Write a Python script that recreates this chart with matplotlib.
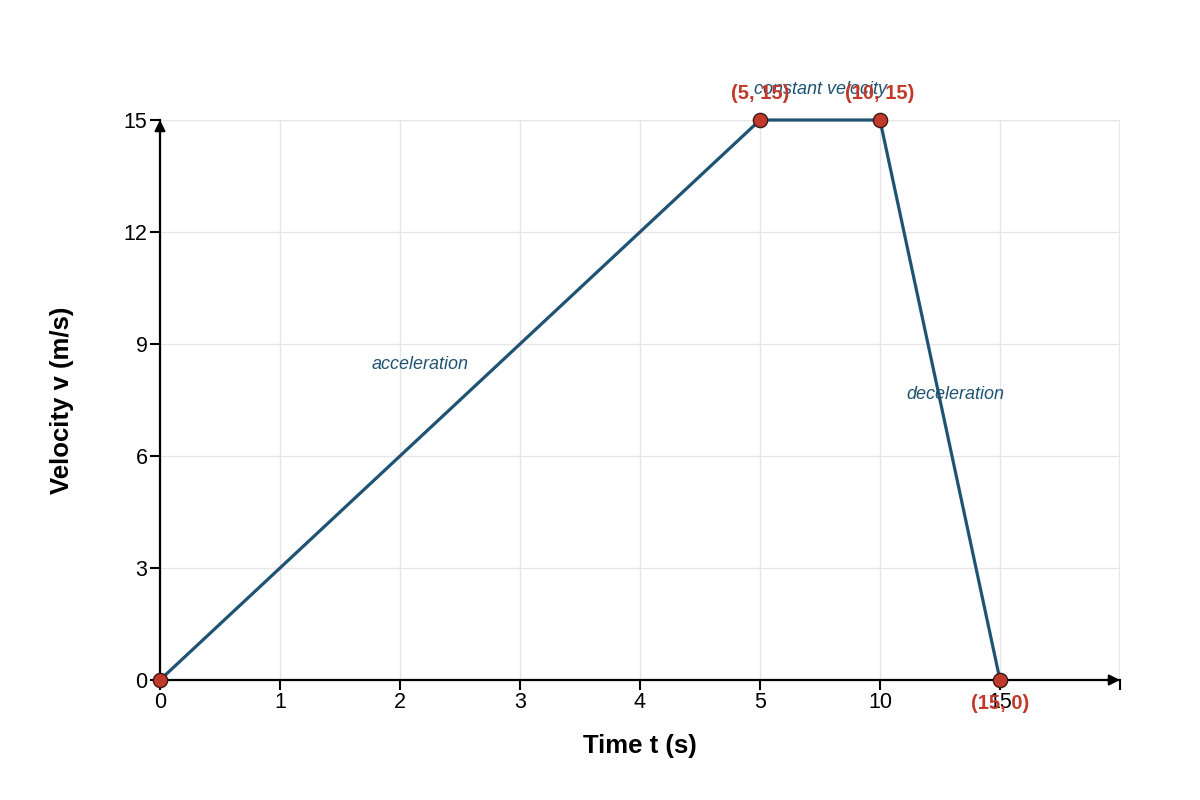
import matplotlib.pyplot as plt

# x axis is an ordinal (point) scale: equal spacing per tick
x_ticks = [0, 1, 2, 3, 4, 5, 10, 15]
y_ticks = [0, 3, 6, 9, 12, 15]

times = [0, 5, 10, 15]
velocities = [0, 15, 15, 0]
point_labels = ['', '(5, 15)', '(10, 15)', '(15, 0)']

phase_names = ['acceleration', 'constant velocity', 'deceleration']
phase_x = [2.17, 5.5, 6.625]
phase_y = [8.45, 15.82, 7.65]

LINE = '#1f5373'
RED = '#c0392b'


def main():
    plt.rcParams['font.family'] = ['Liberation Sans', 'DejaVu Sans']

    fig = plt.figure(figsize=(12, 8), dpi=100)
    ax = fig.add_axes([160 / 1200, 120 / 800, 960 / 1200, 560 / 800])

    n = len(x_ticks)
    pos = [x_ticks.index(t) for t in times]

    ax.set_xlim(0, n)
    ax.set_ylim(0, 15)
    ax.set_xticks(list(range(n + 1)))
    ax.set_xticklabels([str(t) for t in x_ticks] + [''])
    ax.set_yticks(y_ticks)
    ax.set_yticklabels([str(v) for v in y_ticks])
    ax.grid(True, color='#e6e6e6', lw=1)
    ax.set_axisbelow(True)
    ax.axvline(n, color='#e6e6e6', lw=1.5, zorder=0)
    ax.axhline(15, color='#e6e6e6', lw=1.5, zorder=0)

    for s in ['top', 'right']:
        ax.spines[s].set_visible(False)
    for s in ['left', 'bottom']:
        ax.spines[s].set_color('black')
        ax.spines[s].set_linewidth(1.6)
    ax.tick_params(axis='both', colors='black', width=1.5, length=7,
                   labelsize=15.5, pad=2)
    for lab in ax.get_yticklabels():
        lab.set_verticalalignment('center_baseline')

    # arrow heads on axes
    ax.annotate('', xy=(n, 0), xytext=(n - 0.12, 0),
                arrowprops=dict(arrowstyle='-|>', color='black',
                                mutation_scale=16, lw=1.5, shrinkA=0, shrinkB=0),
                annotation_clip=False)
    ax.annotate('', xy=(0, 15), xytext=(0, 14.68),
                arrowprops=dict(arrowstyle='-|>', color='black',
                                mutation_scale=16, lw=1.5, shrinkA=0, shrinkB=0),
                annotation_clip=False)

    ax.plot(pos, velocities, color=LINE, lw=2.3, zorder=3, clip_on=False)
    ax.scatter(pos, velocities, s=105, color=RED, edgecolors='#3a1a16',
               linewidths=1, zorder=5, clip_on=False)

    for x, y, lab in zip(pos, velocities, point_labels):
        if not lab:
            continue
        dy = 0.7 if y > 0 else -0.62
        ax.text(x, y + dy, lab, color=RED, fontsize=14.5, fontweight='bold',
                ha='center', va='center', zorder=6)

    for name, x, y in zip(phase_names, phase_x, phase_y):
        ax.text(x, y, name, color=LINE, fontsize=13, style='italic',
                ha='center', va='center', zorder=4)

    fig.text(640 / 1200, 1 - 746 / 800, 'Time t (s)', fontsize=18.5,
             fontweight='bold', ha='center', va='center')
    fig.text(62 / 1200, 0.5, 'Velocity v (m/s)', fontsize=18.5,
             fontweight='bold', ha='center', va='center', rotation=90)

    fig.savefig('out.png', dpi=100)


if __name__ == '__main__':
    main()
